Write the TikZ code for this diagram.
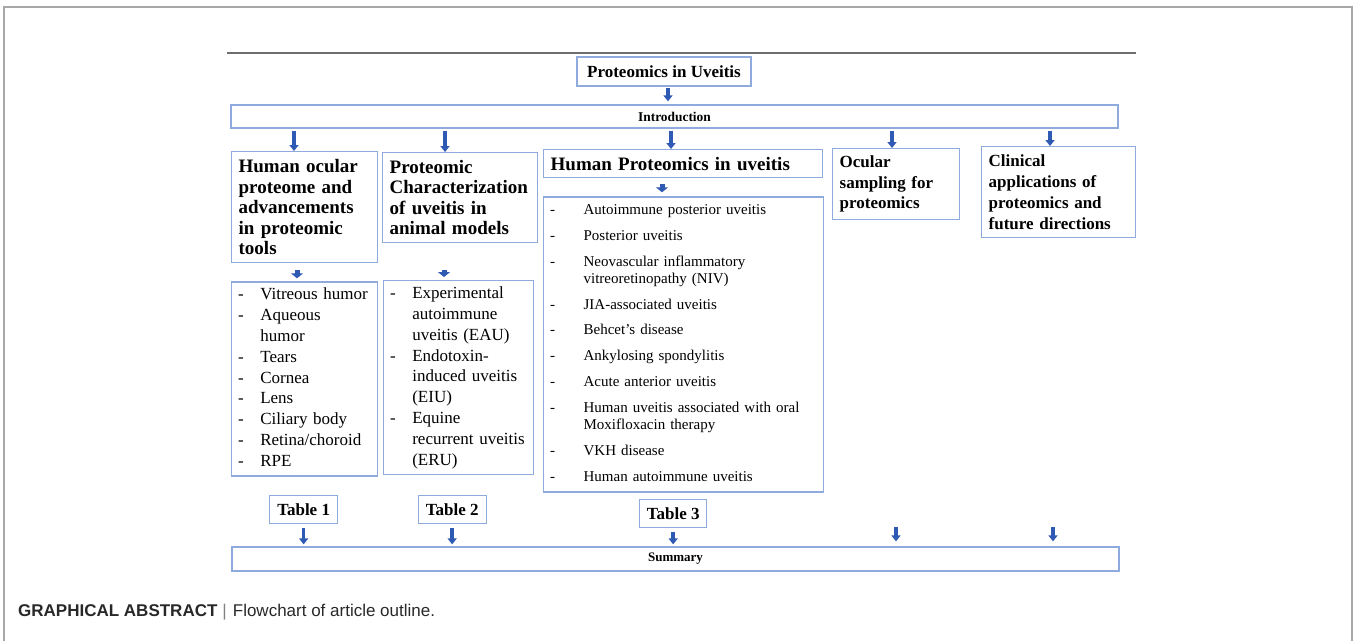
\documentclass[tikz,border=0pt]{standalone}
\usepackage{fontspec}
\setmainfont{Liberation Serif}
\newfontfamily\capfont{Liberation Sans}
\usepackage{tikz}
\usetikzlibrary{arrows.meta,positioning}
\definecolor{boxblue}{RGB}{143,170,220}
\definecolor{arrowblue}{RGB}{47,90,180}
\definecolor{framegray}{RGB}{168,168,168}
\definecolor{rulegray}{RGB}{110,110,110}
\definecolor{captext}{RGB}{40,40,40}
\tikzset{
  box/.style={rectangle, draw=boxblue, line width=1.3pt, fill=white,
              inner xsep=7pt, inner ysep=0pt, align=left},
  head/.style={box, anchor=north west, font=\fontsize{19}{20.5}\selectfont\bfseries},
  subhead/.style={box, anchor=north west, font=\fontsize{17}{20.7}\selectfont\bfseries},
  list/.style={box, anchor=north west, inner xsep=6.5pt, font=\fontsize{17}{20.8}\selectfont},
  smalllist/.style={box, anchor=north west, inner xsep=6.5pt, font=\fontsize{15}{17}\selectfont},
  bar/.style={box, minimum width=887pt, align=center, inner xsep=0pt},
  tab/.style={box, anchor=north west, minimum height=28pt, inner xsep=0pt, align=center,
              font=\fontsize{17}{20}\selectfont\bfseries},
  barrow/.style={-{Triangle[width=9pt,length=6pt]}, line width=3.5pt, arrowblue},
  chev/.style={-{Triangle[width=12pt,length=5pt]}, line width=5pt, arrowblue},
}

\begin{document}
\begin{tikzpicture}[x=1pt, y=-1pt]
\useasboundingbox (0,0) rectangle (1354,641);
% frame and rule
\draw[framegray, line width=2pt] (4,641) -- (4,6.5) -- (1352,6.5) -- (1352,641);
\draw[rulegray, line width=1.5pt] (227,53) -- (1136,53);

\node[box, minimum width=174pt, minimum height=29pt, align=center, inner xsep=0pt,
      font=\fontsize{17}{20}\selectfont\bfseries] (title) at (664,71.5) {Proteomics in Uveitis};
\node[bar, minimum height=23pt, font=\fontsize{13.4}{15}\selectfont\bfseries] (intro) at (674.5,116.5) {Introduction};

% chapter boxes
\node[head, text width=132pt, minimum height=111pt] (ocular) at (231,151)
  {Human ocular\\proteome and\\advancements\\in proteomic\\tools};
\node[head, text width=141pt, minimum height=90pt] (animal) at (382,152)
  {Proteomic\\Characterization\\of uveitis in\\animal models};
\node[head, text width=265pt, minimum height=28pt] (human) at (543,149)
  {Human Proteomics in uveitis};
\node[subhead, text width=113pt, minimum height=71pt] (sampling) at (832,148)
  {Ocular\\sampling for\\proteomics};
\node[subhead, text width=140pt, minimum height=91pt] (clinical) at (981,146)
  {Clinical\\applications of\\proteomics and\\future directions};

% lists
\node[list, text width=133pt, minimum height=194pt, below right=18pt and 0pt of ocular.south west] (ocularlist)
  {\begin{tabular}{@{}l@{\hspace{16.5pt}}l@{}}
   -&Vitreous humor\\ -&Aqueous\\ &humor\\ -&Tears\\ -&Cornea\\
   -&Lens\\ -&Ciliary body\\ -&Retina/choroid\\ -&RPE
   \end{tabular}};
\node[list, text width=137pt, minimum height=194pt] (animallist) at (383,280)
  {\begin{tabular}{@{}l@{\hspace{16.5pt}}l@{}}
   -&Experimental\\ &autoimmune\\ &uveitis (EAU)\\ -&Endotoxin-\\ &induced uveitis\\
   &(EIU)\\ -&Equine\\ &recurrent uveitis\\ &(ERU)
   \end{tabular}};
\node[smalllist, text width=267pt, minimum height=295pt, below right=18pt and 0pt of human.south west] (humanlist)
  {\begin{tabular}{@{}l@{\hspace{28.5pt}}l@{}}
   -&Autoimmune posterior uveitis\\[8.9pt]
   -&Posterior uveitis\\[8.9pt]
   -&Neovascular inflammatory\\
    &vitreoretinopathy (NIV)\\[8.9pt]
   -&JIA-associated uveitis\\[8.9pt]
   -&Behcet’s disease\\[8.9pt]
   -&Ankylosing spondylitis\\[8.9pt]
   -&Acute anterior uveitis\\[8.9pt]
   -&Human uveitis associated with oral\\
    &Moxifloxacin therapy\\[8.9pt]
   -&VKH disease\\[8.9pt]
   -&Human autoimmune uveitis
   \end{tabular}};

% tables and summary
\node[tab, minimum width=68pt] (tab1) at (269,495) {Table 1};
\node[tab, minimum width=68pt] (tab2) at (417.5,495) {Table 2};
\node[tab, minimum width=67pt] (tab3) at (639,499) {Table 3};
\node[bar, minimum height=24pt, font=\fontsize{13}{15}\selectfont\bfseries] (summary) at (675.5,559) {Summary};
\coordinate (sampfoot) at (896,527);
\coordinate (clinfoot) at (1053,527);

% arrows
\draw[barrow, shorten <=1pt, shorten >=3pt] (title.south -| 668,0) -- (intro.north -| 668,0);
\foreach \n/\x in {ocular/294, animal/445, human/671, sampling/892, clinical/1050}
  \draw[barrow, shorten <=2pt] (intro.south -| \x,0) -- (\n.north -| \x,0);
\draw[chev, shorten <=7pt, shorten >=3pt] (ocular.south -| 297,0) -- (ocularlist.north -| 297,0);
\draw[chev, shorten <=27pt, shorten >=3pt] (animal.south -| 444,0) -- (animallist.north -| 444,0);
\draw[chev, shorten <=6pt, shorten >=4pt] (human.south -| 662,0) -- (humanlist.north -| 662,0);
\foreach \n in {tab1, tab2, tab3}
  \draw[barrow, shorten <=4pt, shorten >=2pt] (\n.south) -- (summary.north -| \n.south);
\foreach \c in {sampfoot, clinfoot}
  \draw[barrow, shorten >=5pt] (\c) -- (summary.north -| \c);

% caption
\node[anchor=west, inner sep=0pt, text=captext, font=\capfont\fontsize{17}{20}\selectfont] (caption) at (18,612)
  {\textbf{GRAPHICAL ABSTRACT}\hspace{5pt}{\color{gray}|}\hspace{6pt}Flowchart of article outline.};
\end{tikzpicture}
\end{document}
